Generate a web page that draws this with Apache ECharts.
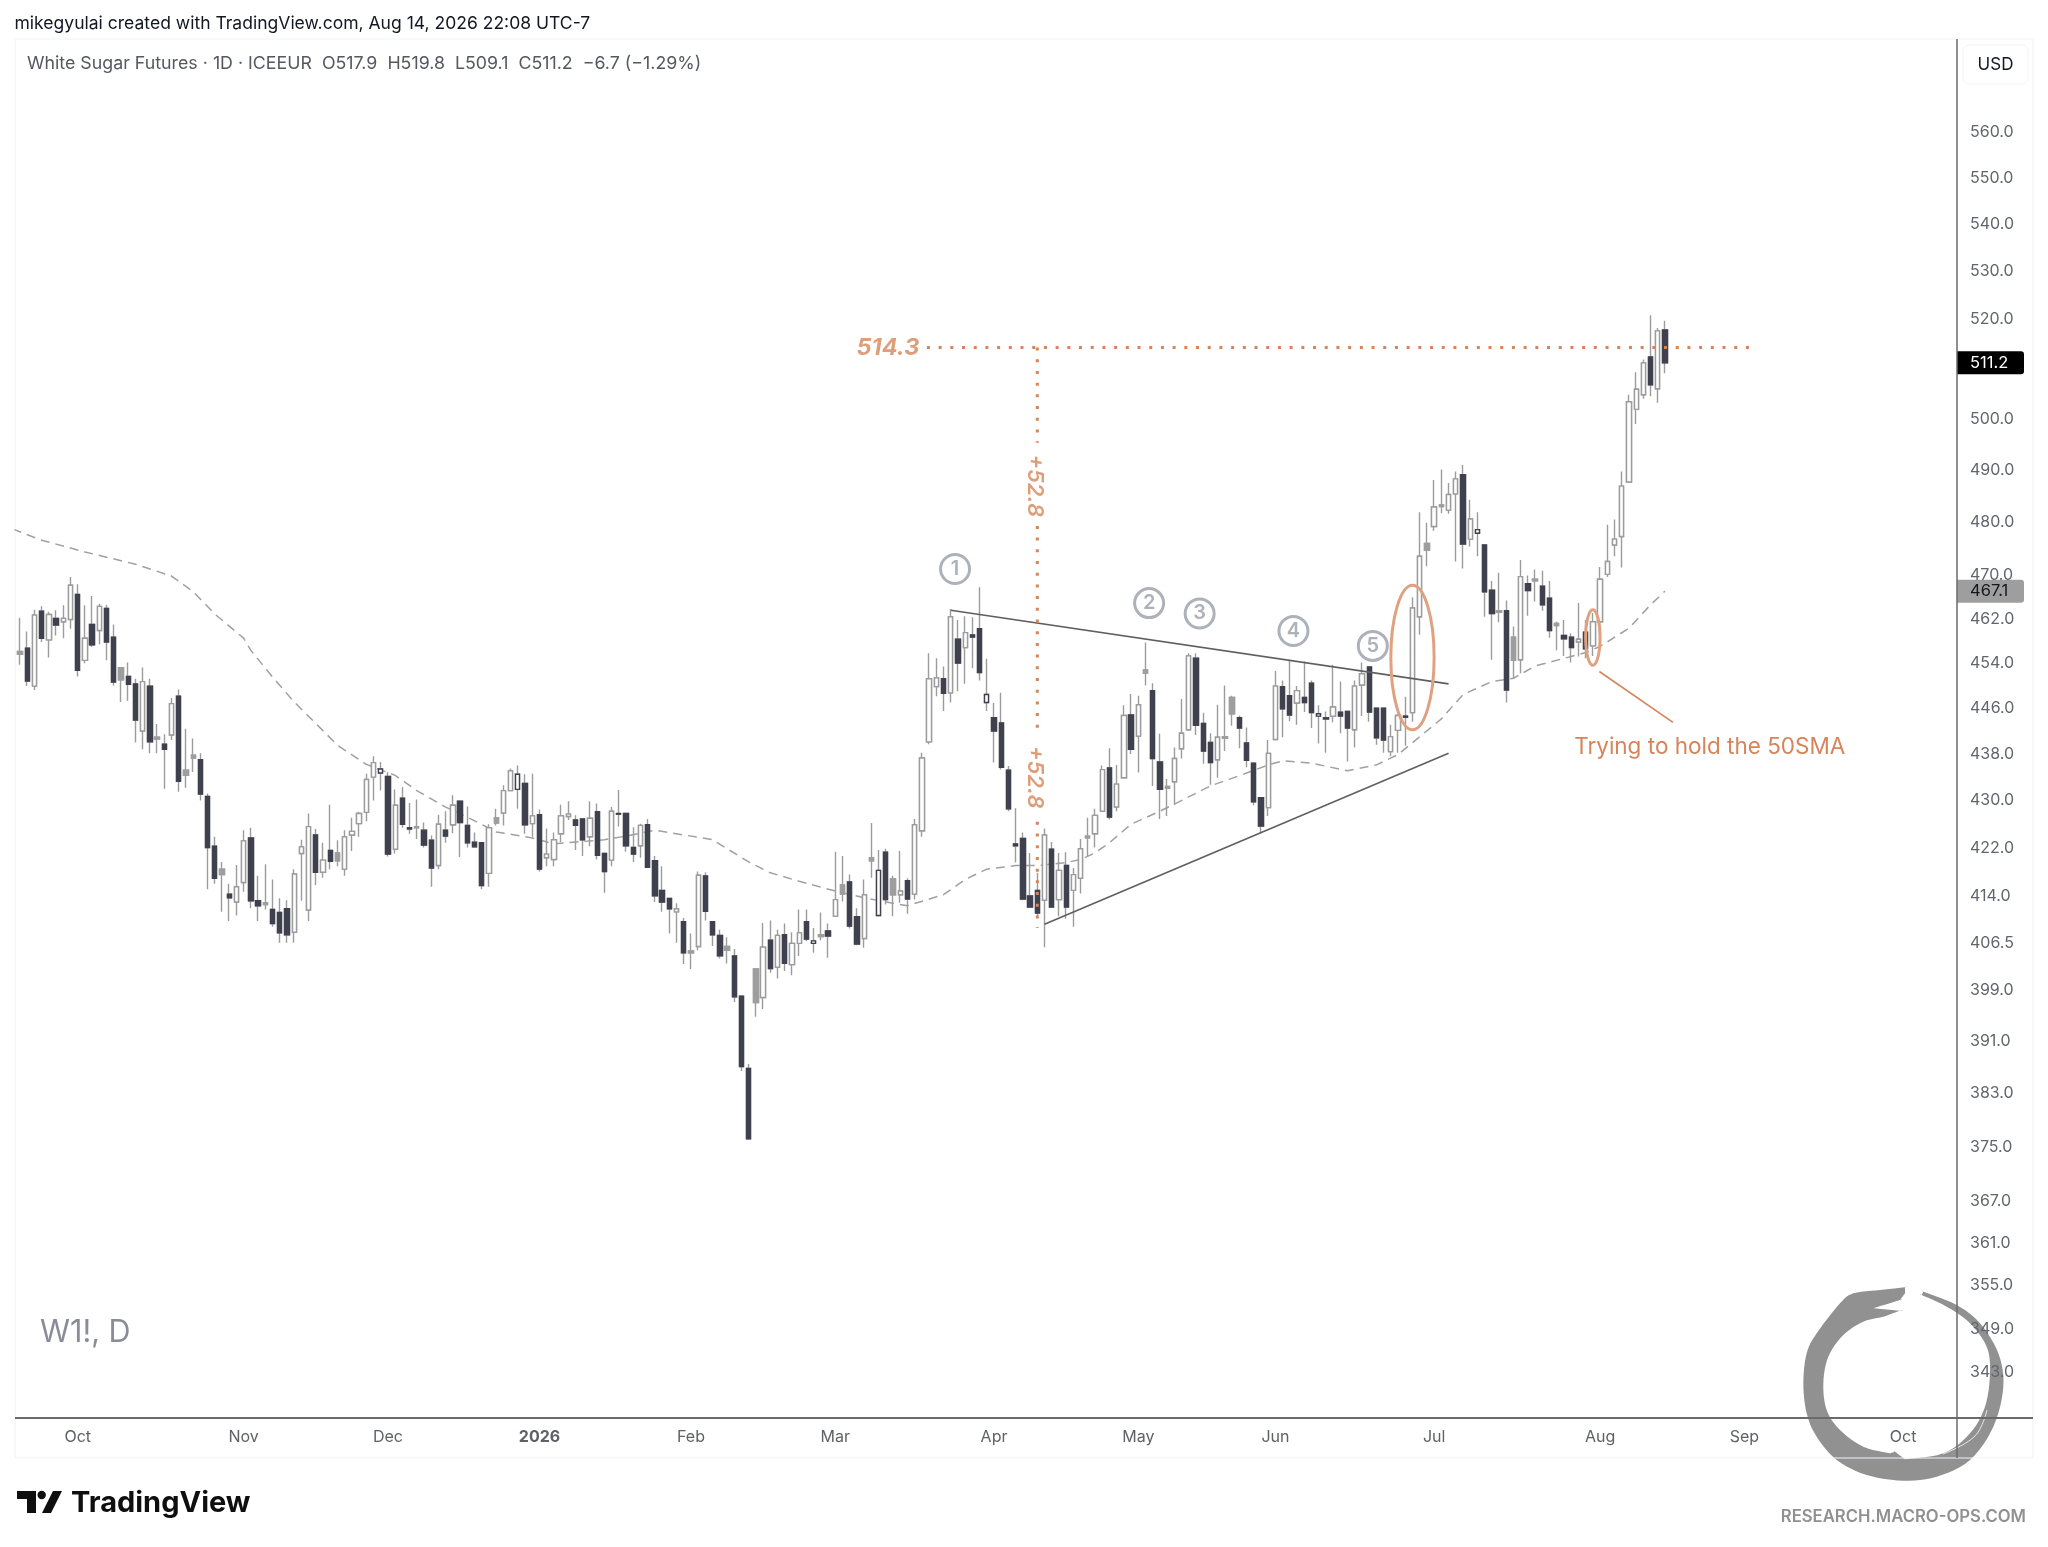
<!DOCTYPE html>
<html><head><meta charset="utf-8">
<style>html,body{margin:0;padding:0;background:#fff}#c{width:2048px;height:1547px}</style>
<script src="https://cdn.jsdelivr.net/npm/echarts@6/dist/echarts.min.js"></script>
</head><body><div id="c"></div>
<script>
// ---- data: one entry per trading bar, first bar is index -1 (clipped at the left edge)
const firstBar = -1;
const highs = [459.8,
462.2,459.7,463.7,464.3,463.3,463.6,464.5,469.7,468.4,464.5,
466.2,464.8,464.6,461.0,453.3,454.1,451.2,453.2,451.2,443.2,
441.4,447.8,449.3,442.4,440.7,438.1,431.2,423.9,419.7,416.1,
419.2,425.0,425.4,417.4,419.3,416.8,413.7,413.4,418.5,423.4,
427.8,425.2,422.9,429.3,423.3,425.0,427.1,428.1,434.6,437.6,
436.6,434.9,431.9,432.3,429.6,430.2,426.3,424.1,427.6,428.2,
430.9,429.9,429.0,424.6,422.9,426.0,428.6,432.6,435.5,436.0,
434.5,434.6,428.5,425.3,424.6,429.3,429.9,427.5,426.9,429.9,
429.5,421.2,428.9,431.8,427.9,425.5,426.1,426.9,420.7,419.0,
413.7,412.9,410.5,408.0,418.1,418.0,409.9,408.6,407.4,405.5,
398.0,387.5,402.3,409.7,410.1,408.6,409.6,408.2,411.9,411.9,
408.9,411.4,409.6,421.4,420.7,417.6,412.1,416.8,426.2,421.7,
421.9,417.4,421.5,417.0,426.9,438.2,455.8,454.9,453.4,463.8,
461.8,462.5,462.3,467.8,454.8,446.9,448.7,435.9,428.7,424.6,
421.2,417.9,425.3,423.0,421.2,421.3,418.7,423.5,427.1,428.6,
436.0,439.0,436.1,446.5,448.5,448.2,457.7,450.4,441.5,433.7,
439.1,447.6,455.8,455.8,445.2,441.6,446.6,450.0,448.2,444.7,
442.6,436.4,430.6,440.4,452.6,450.9,454.6,449.9,454.3,450.9,
446.5,445.4,453.7,450.7,445.6,450.9,454.1,453.4,446.0,446.0,
443.1,445.0,448.0,466.0,481.9,479.9,488.1,490.1,487.5,489.7,
491.0,484.3,481.9,475.7,469.0,470.5,465.4,460.6,472.9,470.0,
471.1,470.9,469.0,461.5,461.8,459.4,464.9,461.8,463.1,471.6,
479.5,480.5,489.7,504.8,509.3,511.9,520.9,518.3,519.8];
const lows = [454.5,
453.7,449.9,449.2,457.8,455.0,459.0,458.5,460.2,451.6,454.0,
456.9,457.4,454.5,450.0,447.1,447.3,440.0,438.8,438.1,438.1,
432.0,440.4,431.5,432.2,434.9,430.0,415.2,416.1,411.5,410.0,
410.9,414.8,412.1,410.0,411.9,409.1,406.5,406.5,406.5,413.3,
410.0,415.9,417.1,418.5,419.0,417.4,421.5,423.9,426.5,430.0,
431.7,420.6,421.1,425.4,424.4,423.5,422.1,415.6,418.5,422.9,
424.5,420.5,422.1,422.1,415.2,415.6,425.8,425.8,431.6,428.6,
424.4,423.9,418.1,419.0,419.0,423.0,426.7,421.7,420.7,422.3,
420.1,414.6,419.0,425.6,421.4,419.7,420.4,418.8,413.1,411.5,
408.0,406.5,403.1,402.3,405.3,410.1,406.0,404.0,403.2,397.1,
386.4,376.2,394.8,396.0,401.7,400.8,402.0,401.3,404.4,406.8,
404.9,406.9,404.1,410.8,413.2,408.8,406.1,405.7,417.1,410.9,
412.7,410.8,413.0,411.2,413.5,423.9,439.7,448.1,445.5,447.0,
449.0,450.3,453.1,450.9,445.5,436.5,435.3,428.2,419.6,413.4,
412.2,410.6,405.8,412.2,410.8,410.4,409.1,414.5,420.7,422.1,
428.2,426.8,428.2,433.9,438.0,434.8,450.0,432.5,426.9,427.4,
429.3,437.2,442.2,441.3,436.3,432.7,433.9,438.5,442.9,439.0,
435.7,429.2,424.5,427.4,440.5,440.9,443.7,443.1,445.3,442.5,
439.8,438.2,443.5,441.6,436.7,439.1,444.6,443.6,439.6,438.2,
437.6,438.2,439.4,443.6,459.1,471.7,478.4,481.7,481.6,472.6,
471.3,475.4,473.6,462.4,454.6,461.4,447.0,451.3,452.2,462.6,
465.2,463.5,458.6,456.3,455.3,454.1,455.2,454.9,455.3,459.5,
469.7,473.6,471.5,487.6,499.0,504.0,504.5,503.2,509.1];
const opens = [454.5,
456.1,456.7,449.9,463.4,458.2,462.1,461.5,461.9,466.5,454.5,
461.0,459.9,463.9,458.7,453.2,451.6,450.3,442.0,449.9,440.9,
439.7,441.3,448.1,435.2,437.8,437.0,430.7,422.3,418.5,414.4,
413.1,416.3,423.7,413.3,413.0,411.9,411.4,412.0,408.2,421.1,
411.8,424.2,418.0,421.6,421.2,418.5,424.2,426.1,428.0,434.0,
434.7,434.1,421.8,430.4,425.4,425.6,425.0,423.3,419.1,425.0,
425.9,429.9,425.8,423.0,422.9,417.8,427.1,427.9,431.7,431.9,
432.9,426.1,427.6,420.4,420.1,424.4,427.3,426.7,426.9,423.9,
428.1,421.1,420.0,427.8,427.8,422.1,422.4,425.9,419.9,415.0,
413.7,411.5,409.9,405.2,405.9,417.4,409.9,407.7,405.9,404.4,
398.0,386.8,402.3,397.8,406.9,402.6,407.8,403.0,406.4,409.9,
406.4,407.8,408.4,410.8,415.9,416.4,410.7,407.2,420.4,410.9,
421.3,416.9,414.3,416.6,414.4,424.9,440.1,449.8,451.2,448.7,
458.3,456.8,459.1,460.2,447.0,444.3,443.4,435.2,422.7,423.6,
414.1,415.0,413.4,421.8,413.5,419.1,415.0,417.0,424.0,424.4,
428.2,435.6,428.9,433.9,444.8,441.1,452.8,449.1,436.6,432.4,
433.2,438.9,442.2,454.9,443.3,440.0,437.0,441.0,447.9,444.3,
439.9,436.4,430.5,428.8,440.5,449.8,448.2,446.9,447.9,450.4,
444.6,444.3,444.6,445.3,445.4,442.2,450.1,453.3,446.0,446.0,
438.4,442.1,444.6,445.2,462.4,476.0,479.2,483.3,482.3,485.4,
489.1,476.8,477.9,475.7,467.3,463.5,463.5,458.7,454.6,468.5,
469.3,468.0,465.8,461.2,459.0,458.7,457.8,459.6,457.1,461.5,
470.2,475.7,477.3,487.7,501.9,504.8,512.4,506.0,517.9];
const closes = [459.8,
455.6,450.8,462.7,458.5,462.8,460.9,462.1,468.2,452.7,458.5,
457.3,464.3,457.8,450.6,451.0,450.2,443.9,450.7,440.1,440.6,
438.8,446.8,433.3,434.3,437.3,431.1,422.1,417.0,417.6,413.8,
415.6,423.2,413.3,412.5,412.7,409.6,408.1,407.8,417.7,422.2,
425.6,418.0,420.0,419.8,419.9,423.9,424.8,427.8,433.6,436.5,
435.4,421.0,429.2,426.0,425.2,425.4,422.5,418.7,426.0,424.0,
429.2,426.3,422.9,422.2,415.8,425.4,426.2,431.7,435.1,434.5,
425.9,427.4,418.5,421.0,423.4,427.4,427.7,425.8,423.4,427.0,
420.8,418.1,428.2,427.7,422.4,421.0,425.8,418.8,414.1,413.1,
412.0,412.0,404.9,404.9,417.5,411.6,407.8,404.4,405.3,397.9,
387.1,376.2,397.0,405.8,402.4,407.7,403.2,406.4,408.1,407.1,
406.8,407.5,407.6,413.5,414.4,409.2,406.3,414.3,419.9,418.3,
413.5,414.3,414.9,413.6,425.9,437.3,451.2,451.4,448.6,462.4,
454.0,459.5,458.7,452.3,448.4,442.0,435.7,428.6,422.4,413.6,
412.3,411.3,424.2,412.3,418.3,412.3,417.6,421.9,423.7,427.5,
435.3,427.2,432.8,444.7,438.8,446.6,452.2,437.2,431.9,432.1,
437.2,441.6,455.3,443.0,438.5,436.5,440.9,440.7,445.0,442.5,
436.9,429.8,425.7,438.1,449.9,445.9,444.8,449.1,447.0,445.2,
445.0,444.1,446.2,444.6,442.5,449.9,452.1,445.3,440.8,440.4,
441.0,444.7,444.4,464.0,473.6,474.7,482.9,483.0,485.3,488.3,
475.9,480.6,478.6,467.0,463.0,463.2,449.2,454.5,469.8,467.2,
469.0,464.6,459.9,460.8,458.4,456.8,458.3,456.6,461.5,469.3,
472.6,476.8,486.9,503.4,505.9,511.2,506.8,517.7,511.2];
const grayBars = [0,14,19,23,24,28,34,44,55,66,93,98,102,111,114,118,121,148,156,159,167,168,195,197,205,207,210,213];
const outlinedBars = [50,69,110,119,134,180,202];

const smaBars = [-1,3,9,16,21,24,27,31,32,35,38,41,44,48,52,55,59,62,66,71,74,78,81,84,88,92,96,98,101,104,108,113,117,121,123,128,131,134,138,141,145,147,149,151,154,158,160,165,170,173,175,179,184,188,191,197,200,204,207,210,215,217,219,223,226,228];
const smaValues = [478.7,476.6,474.4,472.1,469.9,467.0,462.9,458.5,456.3,451.5,447.1,443.3,439.5,436.2,434.3,431.7,428.9,427.2,424.7,423.7,422.7,423.1,423.4,424.0,425.0,424.2,423.4,421.9,419.7,417.9,416.5,414.9,413.8,412.9,412.5,414.3,416.8,418.5,419.1,419.1,419.6,420.1,421.2,422.9,426.0,428.2,429.4,432.5,434.7,436.1,436.8,436.4,435.1,436.1,437.9,444.1,448.4,450.7,451.3,453.5,455.2,455.9,457.0,460.3,464.6,467.1];

const priceTicks = [560,550,540,530,520,500,490,480,470,462,454,446,438,430,422,414,406.5,399,391,383,375,367,361,355,349,343];
const monthBars = [8,31,51,72,93,113,135,155,174,196,219,239,261];
const monthNames = ['Oct','Nov','Dec','2026','Feb','Mar','Apr','May','Jun','Jul','Aug','Sep','Oct'];

const trendUpper = [[129,463.6],[198,450.3]];
const trendLower = [[142,409.5],[198,438.1]];
const targetLevel = 514.3;
const targetBars = [125.7,240];
const moveBar = 141;
const moveSegments = [[514.3,495.3],[479.3,442.5],[426.4,408.9]];
const calloutLine = [[218.9,452.5],[229.1,443.5]];
const ellipses = [[193,468.2,442.2,3],[218,463.7,453.6,1]];
const numberMarks = [['1',129.6,471.2],['2',156.5,464.9],['3',163.5,463.0],['4',176.5,459.8],['5',187.5,457.1]];
const notes = [
  {text:'514.3',bar:120.3,price:514.3,kind:'level'},
  {text:'+52.8',bar:140.65,price:487.0,kind:'move'},
  {text:'+52.8',bar:140.65,price:434.0,kind:'move'},
  {text:'Trying to hold the 50SMA',bar:234.2,price:439.2,kind:'note'}
];
const priceTags = [{price:511.2,bg:'#000000',fg:'#ffffff'},{price:467.1,bg:'#9e9e9e',fg:'#131722'}];

// ---- options
const FONT='Inter, "Noto Sans", sans-serif';
const LINE='#6a6a6a', ORANGE='#d6845a', ORANGE_TXT='#dd9f7b', WICK='#9c9c9c', DARK='#3f414e', GRAY='#9e9e9e';
const xMin=-0.693, xMax=268.47;
const wickData = highs.map((h,i)=>{
  const top=Math.max(opens[i],closes[i]), bot=Math.min(opens[i],closes[i]);
  return [i+firstBar, top, bot, lows[i], h];
});
const bodyData = opens.map((o,i)=>{
  const bar=i+firstBar, c=closes[i], top=Math.max(o,c), bot=Math.min(o,c);
  let fill, edge;
  if(grayBars.includes(bar)){fill=GRAY;edge=GRAY;}
  else if(c>o){fill='#ffffff';edge=outlinedBars.includes(bar)?DARK:WICK;}
  else {fill=DARK;edge=DARK;}
  return {value:[bar,o,c,bot,top],itemStyle:{color:fill,color0:fill,borderColor:edge,borderColor0:edge,borderColorDoji:edge}};
});
function lineSeries(data,style,z){
  return {type:'line',data,showSymbol:false,symbol:'none',silent:true,z:z||5,lineStyle:style,animation:false};
}
const dotted={color:ORANGE,width:3,type:[3,8.7]};
const series=[
  lineSeries(smaBars.map((b,i)=>[b,smaValues[i]]),{color:'#a0a0a0',width:1.5,type:[9,6]},1),
  {type:'candlestick',data:wickData,barWidth:4.8,z:2,silent:true,clip:true,
   itemStyle:{color:'#fff',color0:'#fff',borderColor:WICK,borderColor0:WICK,borderColorDoji:WICK,borderWidth:1.4}},
  {type:'candlestick',data:bodyData,barWidth:4.8,z:3,silent:true,clip:true,itemStyle:{borderWidth:1.4}},
  lineSeries(trendUpper,{color:'#5f5f5f',width:1.6},4),
  lineSeries(trendLower,{color:'#5f5f5f',width:1.6},4),
  lineSeries(targetBars.map(b=>[b,targetLevel]),dotted),
  lineSeries(calloutLine,{color:ORANGE,width:1.6}),
];
moveSegments.forEach(s=>series.push(lineSeries(s.map(p=>[moveBar,p]),dotted)));
series.push({type:'custom',z:6,silent:true,clip:false,data:ellipses,encode:{x:0,y:[1,2]},
  renderItem(p,api){
    const a=api.coord([api.value(0)-api.value(3),api.value(1)]), b=api.coord([api.value(0)+api.value(3),api.value(2)]);
    return {type:'ellipse',shape:{cx:(a[0]+b[0])/2,cy:(a[1]+b[1])/2,rx:(b[0]-a[0])/2,ry:(b[1]-a[1])/2},
      style:{fill:null,stroke:'#dfa17f',lineWidth:3}};
  }});
series.push({type:'custom',z:7,silent:true,clip:false,data:numberMarks.map(m=>[m[1],m[2]]),encode:{x:0,y:1},
  renderItem(p,api){
    const c=api.coord([api.value(0),api.value(1)]);
    return {type:'group',children:[
      {type:'circle',shape:{cx:c[0],cy:c[1],r:14.5},style:{fill:'rgba(255,255,255,0)',stroke:'#adb1b9',lineWidth:3}},
      {type:'text',style:{x:c[0],y:c[1],text:numberMarks[p.dataIndex][0],fill:'#adb1b9',font:'600 20px '+FONT,align:'center',verticalAlign:'middle'}}
    ]};
  }});
series.push({type:'custom',z:7,silent:true,clip:false,data:notes.map(n=>[n.bar,n.price]),encode:{x:0,y:1},
  renderItem(p,api){
    const n=notes[p.dataIndex], c=api.coord([api.value(0),api.value(1)]);
    const font=n.kind==='note'?'400 22.5px '+FONT:(n.kind==='level'?'italic 700 23.5px '+FONT:'italic 600 22px '+FONT);
    return {type:'text',x:c[0],y:c[1],rotation:n.kind==='move'?-Math.PI/2:0,
      style:{x:0,y:0,text:n.text,fill:n.kind==='note'?ORANGE:ORANGE_TXT,font,align:'center',verticalAlign:'middle'}};
  }});
series.push({type:'custom',z:8,silent:true,clip:false,data:priceTags.map(t=>[xMax,t.price]),encode:{x:0,y:1},
  renderItem(p,api){
    const t=priceTags[p.dataIndex], c=api.coord([api.value(0),api.value(1)]);
    return {type:'group',children:[
      {type:'rect',shape:{x:c[0],y:c[1]-11.5,width:67,height:23,r:[0,3,3,0]},style:{fill:t.bg}},
      {type:'text',style:{x:c[0]+13,y:c[1],text:t.price.toFixed(1),fill:t.fg,font:'400 16.5px '+FONT,align:'left',verticalAlign:'middle'}}
    ]};
  }});

// brand ring outline: [zoomX, zoomY, sharpCorner]
const ringZoom=[[765,142,1],[690,150],[610,160],[570,190],[500,280],[470,340],[460,430],[470,520],[500,590],[560,660],[650,705],[760,722],[860,710],[960,660],[1030,560],[1060,440],[1045,340],[990,250],[920,195],[820,155,1],[815,165,1],[890,200],[960,250],[1010,320],[1020,400],[1005,500],[960,580],[880,640],[765,658,1],[735,635,1],[720,640,1],[640,620],[570,570],[530,510],[520,430],[535,350],[580,285],[640,245],[700,230],[750,212,1],[670,205,1],[750,180,1],[765,160,1]];
const ringCtrl=[];
ringZoom.forEach(p=>{const q=[1650+p[0]/3,1240+p[1]/3];ringCtrl.push(q);if(p[2])ringCtrl.push(q);});
function ringOutline(pts){
  const n=pts.length,out=[];
  for(let i=0;i<n;i++){
    const p0=pts[(i-1+n)%n],p1=pts[i],p2=pts[(i+1)%n],p3=pts[(i+2)%n];
    for(let k=0;k<6;k++){
      const t=k/6,t2=t*t,t3=t2*t;
      const f=j=>0.5*(2*p1[j]+(p2[j]-p0[j])*t+(2*p0[j]-5*p1[j]+4*p2[j]-p3[j])*t2+(3*p1[j]-p0[j]-3*p2[j]+p3[j])*t3);
      out.push([f(0),f(1)]);
    }
  }
  return out;
}
const slit=[[1943,1454],[1975,1436],[1987,1410]];

const graphic=[
  {type:'rect',z:0,shape:{x:15,y:39,width:2018,height:1419},style:{fill:'none',stroke:'#f0f3fa',lineWidth:1.2}},
  {type:'rect',z:19,shape:{x:0,y:39,width:14.5,height:1378},style:{fill:'#ffffff'}},
  {type:'line',z:20,shape:{x1:1957,y1:39,x2:1957,y2:1458},style:{stroke:LINE,lineWidth:1.5}},
  {type:'line',z:20,shape:{x1:15,y1:1418,x2:2033,y2:1418},style:{stroke:LINE,lineWidth:2}},
  {type:'text',z:20,style:{x:14.5,y:24,text:'mikegyulai created with TradingView.com, Aug 14, 2026 22:08 UTC-7',fill:'#131722',font:'400 17.55px '+FONT,verticalAlign:'middle'}},
  {type:'text',z:20,style:{x:27,y:64,text:'White Sugar Futures · 1D · ICEEUR  O517.9  H519.8  L509.1  C511.2  −6.7 (−1.29%)',fill:'#555860',font:'400 17.8px '+FONT,verticalAlign:'middle'}},
  {type:'rect',z:20,shape:{x:1963,y:45,width:65,height:39,r:6},style:{fill:'#fff',stroke:'#f0f3fa',lineWidth:1}},
  {type:'text',z:21,style:{x:1995.5,y:64.5,text:'USD',fill:'#131722',font:'400 17px '+FONT,align:'center',verticalAlign:'middle'}},
  {type:'text',z:20,style:{x:40,y:1333,text:'W1!, D',fill:'#8a8d97',font:'400 30.5px '+FONT,verticalAlign:'middle'}},
  {type:'polygon',z:-1,shape:{points:ringOutline(ringCtrl)},style:{fill:'#919191'}},
  {type:'polyline',z:-1,shape:{points:slit,smooth:0.4},style:{fill:null,stroke:'#ffffff',lineWidth:0.8}},
  {type:'text',z:31,style:{x:2026,y:1517,text:'RESEARCH.MACRO-OPS.COM',fill:'#909090',font:'600 16.7px '+FONT,align:'right',verticalAlign:'middle'}},
  {type:'polygon',z:20,shape:{points:[[17,1491],[36,1491],[36,1513],[27,1513],[27,1499],[17,1499]]},style:{fill:'#0f0f0f'}},
  {type:'circle',z:20,shape:{cx:41.7,cy:1495,r:4.2},style:{fill:'#0f0f0f'}},
  {type:'polygon',z:20,shape:{points:[[53,1491],[62,1491],[51,1513],[42,1513]]},style:{fill:'#0f0f0f'}},
  {type:'text',z:20,style:{x:71,y:1503,text:'TradingView',fill:'#0f0f0f',font:'700 29px '+FONT,verticalAlign:'middle'}}
];

const chart=echarts.init(document.getElementById('c'),null,{renderer:'canvas',width:2048,height:1547});
chart.setOption({
  animation:false,
  backgroundColor:'#ffffff',
  grid:{left:15,right:91,top:39,bottom:129,containLabel:false},
  xAxis:{type:'value',min:xMin,max:xMax,scale:true,splitLine:{show:false},axisTick:{show:false},axisLine:{show:false},
    axisLabel:{customValues:monthBars,margin:11.5,color:'#5f6168',fontSize:16,fontFamily:FONT,showMinLabel:true,showMaxLabel:true,hideOverlap:false,
      formatter:v=>{const n=monthNames[monthBars.indexOf(v)];return n==='2026'?'{b|2026}':n;},
      rich:{b:{fontWeight:700,fontSize:16,color:'#5f6168',fontFamily:FONT}}}},
  yAxis:{type:'log',logBase:10,position:'right',min:336.9,max:581,splitLine:{show:false},minorSplitLine:{show:false},axisTick:{show:false},axisLine:{show:false},
    axisLabel:{customValues:priceTicks,margin:13,color:'#62656e',fontSize:16,fontFamily:FONT,align:'left',padding:[3,0,0,0],formatter:v=>Number(v).toFixed(1)}},
  series,
  graphic
});
</script></body></html>
